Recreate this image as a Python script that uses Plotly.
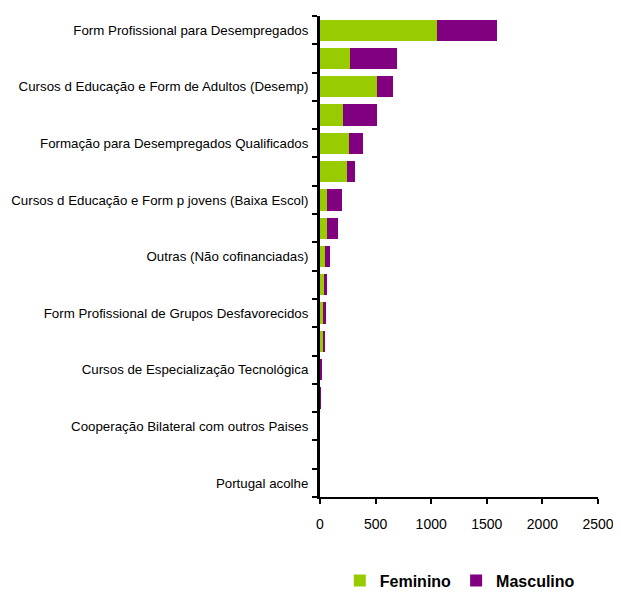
import plotly.graph_objects as go

categories = [
    "Form Profissional para Desempregados",
    "Categoria 2",
    "Cursos d Educação e Form de Adultos (Desemp)",
    "Categoria 4",
    "Formação para Desempregados Qualificados",
    "Categoria 6",
    "Cursos d Educação e Form p jovens (Baixa Escol)",
    "Categoria 8",
    "Outras (Não cofinanciadas)",
    "Categoria 10",
    "Form Profissional de Grupos Desfavorecidos",
    "Categoria 12",
    "Cursos de Especialização Tecnológica",
    "Categoria 14",
    "Cooperação Bilateral com outros Paises",
    "Categoria 16",
    "Portugal acolhe",
]
tick_labels = [c if i % 2 == 0 else "" for i, c in enumerate(categories)]

feminino = [1055, 266, 514, 204, 257, 239, 62, 62, 44, 35, 27, 24, 3, 2, 0, 0, 0]
masculino = [541, 425, 142, 310, 133, 80, 133, 98, 45, 27, 26, 22, 17, 5, 0, 0, 0]

fig = go.Figure()
fig.add_trace(go.Bar(y=categories, x=feminino, name="Feminino", orientation="h",
                     marker=dict(color="#99CC00", line=dict(width=0))))
fig.add_trace(go.Bar(y=categories, x=masculino, name="Masculino", orientation="h",
                     marker=dict(color="#800080", line=dict(width=0))))

fig.update_layout(
    barmode="stack",
    bargap=0.25,
    width=613, height=594,
    margin=dict(l=312, r=23, t=8, b=105),
    paper_bgcolor="white", plot_bgcolor="white",
    font=dict(family="Liberation Sans, Arial", size=13, color="black"),
    showlegend=True,
    legend=dict(orientation="h", x=0.737, xanchor="center", xref="container",
                y=0.036, yanchor="middle", yref="container",
                font=dict(size=16, family="Liberation Sans, Arial", weight="bold"),
                traceorder="normal", itemwidth=30),
    xaxis=dict(range=[0, 2500], dtick=500, showgrid=False, zeroline=False,
               showline=True, linecolor="black", linewidth=2, automargin=False,
               ticks="outside", ticklen=5, tickwidth=2, tickcolor="black",
               ticklabelstandoff=8, tickfont=dict(size=14), fixedrange=True),
    yaxis=dict(type="category", categoryorder="array", categoryarray=categories,
               autorange="reversed", tickmode="array", tickvals=categories, ticktext=tick_labels,
               tickson="boundaries", showgrid=False, zeroline=False, automargin=False,
               showline=True, linecolor="black", linewidth=3,
               ticks="outside", ticklen=5, tickwidth=2, tickcolor="black",
               ticklabelstandoff=6, tickfont=dict(size=13.3)),
)

fig.write_html("out.html")
